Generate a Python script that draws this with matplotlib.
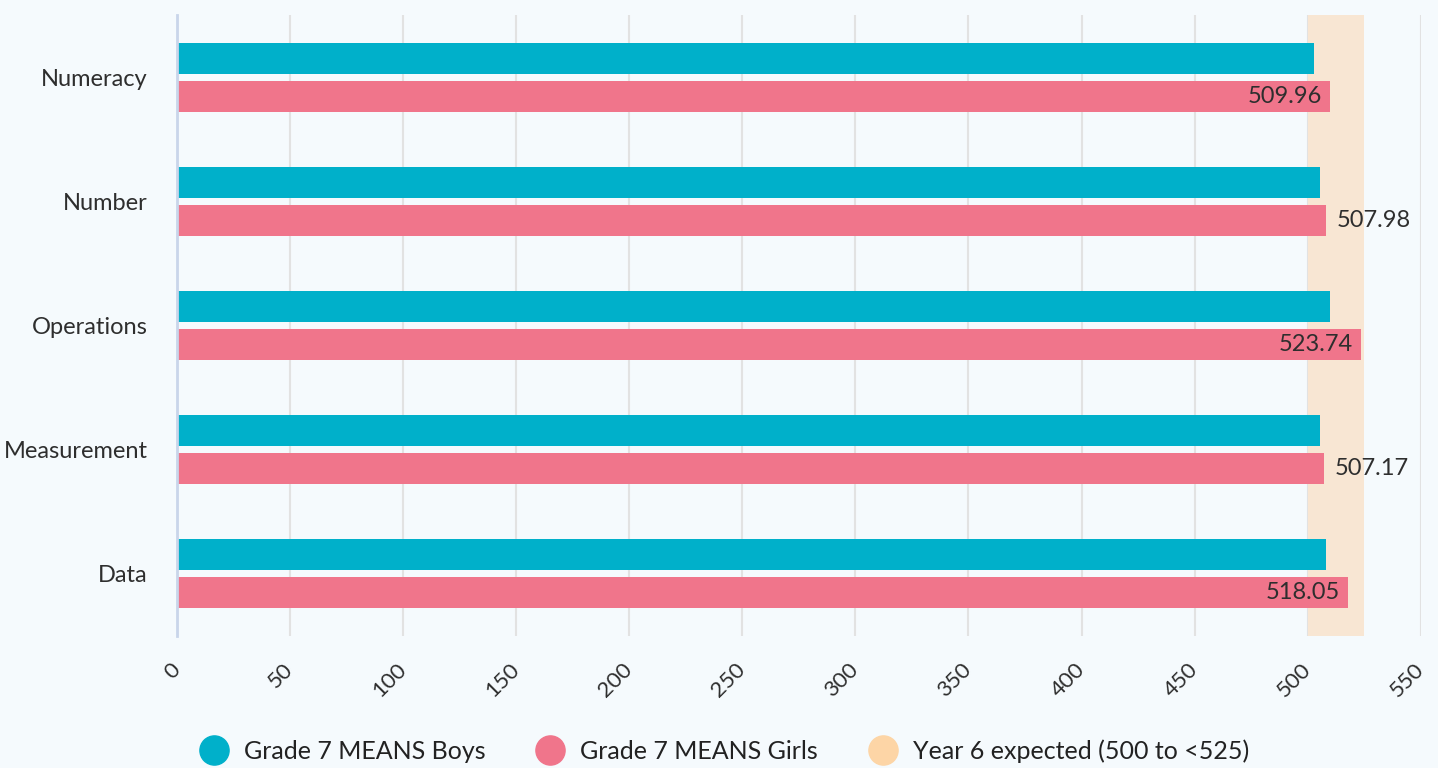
import numpy as np
import matplotlib.pyplot as plt
from matplotlib.lines import Line2D

# datos
categories = ["Numeracy", "Number", "Operations", "Measurement", "Data"]
boys = [502.7, 505.3, 509.7, 505.3, 508.0]
girls = [509.96, 507.98, 523.74, 507.17, 518.05]
band_lo = 500
band_hi = 525
xticks = list(range(0, 551, 50))
label_inside = [True, False, True, False, True]

c_boys = "#00b0ca"
c_girls = "#f0758b"
c_band = "#f8e6d3"
c_band_leg = "#fdd5a6"
bg = "#f5fafd"
txt = "#2e2e2e"

plt.rcParams['font.family'] = ['Lato', 'DejaVu Sans']

fig = plt.figure(figsize=(14.38, 7.68), dpi=100, facecolor=bg)
ax = fig.add_axes([0.1231, 0.1719, 0.988 - 0.1231, 0.9805 - 0.1719])
ax.set_facecolor(bg)

y = np.arange(len(categories))
h = 0.25
off = 0.153

ax.axvspan(band_lo, band_hi, color=c_band, zorder=1, lw=0)
ax.barh(y - off, boys, height=h, color=c_boys, zorder=3)
ax.barh(y + off, girls, height=h, color=c_girls, zorder=3)

for i, v in enumerate(girls):
    if label_inside[i]:
        ax.annotate(f"{v:.2f}", (v, y[i] + off), xytext=(-6, 0), textcoords="offset points",
                    ha="right", va="center", fontsize=17, color=txt, zorder=4)
    else:
        ax.annotate(f"{v:.2f}", (v, y[i] + off), xytext=(8, 0), textcoords="offset points",
                    ha="left", va="center", fontsize=17, color=txt, zorder=4)

ax.set_xlim(0, 550)
ax.set_ylim(len(categories) - 0.5, -0.5)
ax.set_xticks(xticks)
ax.set_xticklabels([str(t) for t in xticks], rotation=45, ha="right", va="center",
                   rotation_mode="anchor", fontsize=16, color=txt)
ax.set_yticks(y)
ax.set_yticklabels(categories, fontsize=17, color=txt)
ax.tick_params(axis="x", length=0, pad=22)
ax.tick_params(axis="y", length=0, pad=21)
ax.grid(axis="x", color="#e2e2e2", lw=1.5, zorder=0)
ax.set_axisbelow(True)
for s in ["top", "right", "bottom"]:
    ax.spines[s].set_visible(False)
ax.spines["left"].set_color("#c9d5ea")
ax.spines["left"].set_linewidth(2)
ax.spines["left"].set_zorder(5)

handles = [
    Line2D([], [], marker="o", ls="", markersize=21, color=c_boys),
    Line2D([], [], marker="o", ls="", markersize=21, color=c_girls),
    Line2D([], [], marker="o", ls="", markersize=21, color=c_band_leg),
]
labels = ["Grade 7 MEANS Boys", "Grade 7 MEANS Girls", "Year 6 expected (500 to <525)"]
leg = fig.legend(handles, labels, loc="center", bbox_to_anchor=(0.5, 0.022), ncol=3,
                 frameon=False, fontsize=18, handletextpad=0.2, columnspacing=1.6,
                 labelcolor="#222222")

fig.savefig("out.png", dpi=100, facecolor=bg)
